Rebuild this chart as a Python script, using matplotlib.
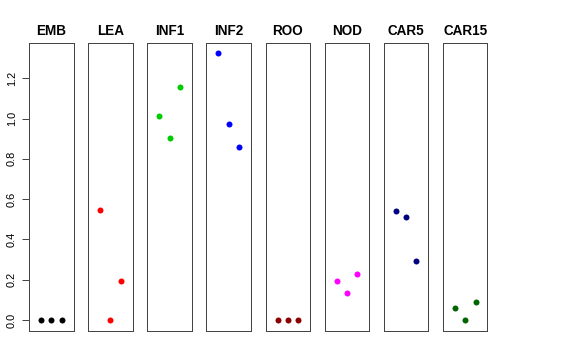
import matplotlib
matplotlib.use("Agg")
import matplotlib.pyplot as plt

# one panel per group, three values each (x = 1, 2, 3)
GROUPS = ["EMB", "LEA", "INF1", "INF2", "ROO", "NOD", "CAR5", "CAR15"]
EMB = [0.0, 0.0, 0.0]
LEA = [0.548, 0.0, 0.194]
INF1 = [1.014, 0.905, 1.155]
INF2 = [1.324, 0.973, 0.861]
ROO = [0.0, 0.0, 0.0]
NOD = [0.194, 0.134, 0.227]
CAR5 = [0.541, 0.511, 0.291]
CAR15 = [0.060, 0.0, 0.089]
VALUES = [EMB, LEA, INF1, INF2, ROO, NOD, CAR5, CAR15]
COLORS = ["black", "red", "#00CD00", "blue", "#8B0000", "magenta", "#000080", "#006400"]
POS = [1, 2, 3]
YTICKS = [0.0, 0.2, 0.4, 0.6, 0.8, 1.0, 1.2]

plt.rcParams["font.family"] = ["Liberation Sans", "DejaVu Sans"]

W, H = 576, 360
fig = plt.figure(figsize=(W / 72, H / 72), dpi=72)

left0, step, width = 29, 59.14, 44.5
top, bottom = 43, 330.7

for i, (name, vals, col) in enumerate(zip(GROUPS, VALUES, COLORS)):
    left = left0 + i * step
    ax = fig.add_axes([left / W, (H - bottom) / H, width / W, (bottom - top) / H])
    ax.plot(POS, vals, "o", color=col, markersize=6, markeredgewidth=0)
    ax.set_xlim(-0.16, 4.16)
    ax.set_ylim(-0.053, 1.375)
    ax.set_xticks([])
    for s in ax.spines.values():
        s.set_color("#444444")
        s.set_linewidth(1)
    ax.set_title(name, fontsize=13.5, fontweight="bold", pad=8)
    if i == 0:
        ax.set_yticks(YTICKS, [f"{t:.1f}" for t in YTICKS])
        ax.tick_params(axis="y", length=7, width=1, color="#444444", labelsize=11, pad=5)
        for lab in ax.get_yticklabels():
            lab.set_rotation(90)
            lab.set_va("center")
    else:
        ax.set_yticks([])

fig.savefig("out.png", dpi=72)
